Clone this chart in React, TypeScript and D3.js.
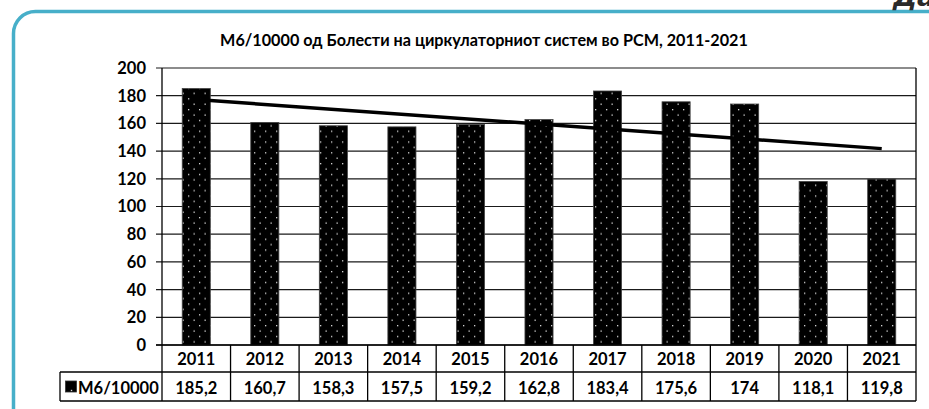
import React from 'react';
import * as d3 from 'd3';

const years = ['2011', '2012', '2013', '2014', '2015', '2016', '2017', '2018', '2019', '2020', '2021'];
const values = [185.2, 160.7, 158.3, 157.5, 159.2, 162.8, 183.4, 175.6, 174, 118.1, 119.8];
const valueLabels = ['185,2', '160,7', '158,3', '157,5', '159,2', '162,8', '183,4', '175,6', '174', '118,1', '119,8'];
const yTicks = [0, 20, 40, 60, 80, 100, 120, 140, 160, 180, 200];
const seriesName = 'М6/10000';
const title = 'М6/10000 од Болести на циркулаторниот систем во РСМ, 2011-2021';

const W = 929;
const H = 409;
const FONT = "Lato, 'Open Sans', 'Noto Sans', sans-serif";

export default function App() {
  const x = d3.scaleBand<string>().domain(years).range([162, 916]).paddingInner(0).paddingOuter(0);
  const y = d3.scaleLinear().domain([0, 200]).range([345, 68]);
  const bw = x.bandwidth() * 0.41;

  // linear trendline (least squares, like Excel)
  const idx = values.map((_, i) => i);
  const mx = d3.mean(idx) as number;
  const my = d3.mean(values) as number;
  const slope =
    d3.sum(idx.map((i) => (i - mx) * (values[i] - my))) / d3.sum(idx.map((i) => (i - mx) * (i - mx)));
  const icpt = my - slope * mx;
  const trendPts: [number, number][] = [0, years.length - 1].map((i) => [
    (x(years[i]) as number) + x.bandwidth() / 2,
    y(icpt + slope * i),
  ]);
  const line = d3.line();

  const row1Top = 345;
  const row1Bot = 372;
  const row2Bot = 401;
  const tableLeft = 60;
  const plotLeft = 162;
  const plotRight = 916;

  return (
    <svg
      width={W}
      height={H}
      style={{ position: 'absolute', left: 0, top: 0, background: '#fff' }}
      fontFamily={FONT}
    >
      <defs>
        <pattern id="dots" width={11} height={10.8} patternUnits="userSpaceOnUse">
          <rect width={11} height={10.8} fill="#000" />
          <rect x={1} y={1} width={1.3} height={1.3} fill="#d8d8d8" />
          <rect x={6.5} y={6.4} width={1.3} height={1.3} fill="#d8d8d8" />
        </pattern>
        <pattern id="dotsKey" width={11} height={11} patternUnits="userSpaceOnUse">
          <rect width={11} height={11} fill="#000" />
          <rect x={4.8} y={4.8} width={1.4} height={1.4} fill="#d8d8d8" />
        </pattern>
      </defs>

      {/* card frame */}
      <rect x={13.5} y={11.5} width={940} height={420} rx={22} ry={22} fill="none" stroke="#47AFC9" strokeWidth={3.5} />
      <text x={893} y={6} fontSize={27} fontStyle="italic" fontWeight="bold" fill="#2a2a2a" fontFamily="'DejaVu Sans', sans-serif">
        Да
      </text>

      {/* title */}
      <text x={484} y={46} textAnchor="middle" fontSize={16.2} fontWeight="bold" fill="#000">
        {title}
      </text>

      {/* gridlines */}
      {yTicks.map((t) => (
        <line key={'g' + t} x1={plotLeft - 6} x2={plotRight} y1={y(t)} y2={y(t)} stroke="#1a1a1a" strokeWidth={1.2} />
      ))}
      {yTicks.map((t) => (
        <text key={'t' + t} x={146} y={y(t)} dy="0.36em" textAnchor="end" fontSize={16.5} fontWeight="bold" fill="#000">
          {t}
        </text>
      ))}

      {/* bars */}
      {years.map((yr, i) => (
        <rect
          key={'b' + yr}
          x={(x(yr) as number) + (x.bandwidth() - bw) / 2}
          y={y(values[i])}
          width={bw}
          height={y(0) - y(values[i])}
          fill="url(#dots)"
          stroke="#444"
          strokeWidth={0.8}
        />
      ))}

      {/* trendline */}
      <path d={line(trendPts) as string} stroke="#000" strokeWidth={3.5} fill="none" />

      {/* plot frame */}
      <line x1={plotLeft} x2={plotLeft} y1={y(200)} y2={row2Bot} stroke="#000" strokeWidth={1.3} />
      <line x1={plotRight} x2={plotRight} y1={y(200)} y2={row2Bot} stroke="#000" strokeWidth={1.3} />
      <line x1={plotLeft - 6} x2={plotRight} y1={row1Top} y2={row1Top} stroke="#000" strokeWidth={1.3} />

      {/* data table */}
      <line x1={plotLeft} x2={plotRight} y1={row1Bot} y2={row1Bot} stroke="#000" strokeWidth={1.3} />
      <line x1={tableLeft} x2={plotLeft} y1={row1Bot} y2={row1Bot} stroke="#000" strokeWidth={1.3} />
      <line x1={tableLeft} x2={plotRight} y1={row2Bot} y2={row2Bot} stroke="#000" strokeWidth={1.3} />
      <line x1={tableLeft} x2={tableLeft} y1={row1Bot} y2={row2Bot} stroke="#000" strokeWidth={1.3} />
      {years.slice(1).map((yr) => (
        <line key={'v' + yr} x1={x(yr) as number} x2={x(yr) as number} y1={row1Top} y2={row2Bot} stroke="#000" strokeWidth={1.3} />
      ))}
      {years.map((yr) => (
        <text key={'yl' + yr} x={(x(yr) as number) + x.bandwidth() / 2} y={365} textAnchor="middle" fontSize={16.5} fontWeight="bold" fill="#000">
          {yr}
        </text>
      ))}
      {years.map((yr, i) => (
        <text key={'vl' + yr} x={(x(yr) as number) + x.bandwidth() / 2} y={393.5} textAnchor="middle" fontSize={16.5} fontWeight="bold" fill="#000">
          {valueLabels[i]}
        </text>
      ))}
      <rect x={65.5} y={381} width={11} height={11} fill="url(#dotsKey)" stroke="#333" strokeWidth={0.8} />
      <text x={78} y={393.5} fontSize={16.5} fontWeight="bold" fill="#000">
        {seriesName}
      </text>
    </svg>
  );
}
